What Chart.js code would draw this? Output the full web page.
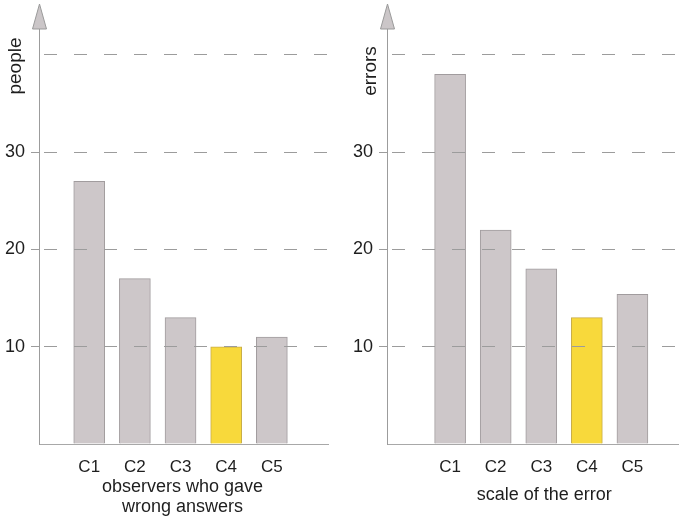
<!DOCTYPE html>
<html><head><meta charset="utf-8">
<script src="https://cdn.jsdelivr.net/npm/chart.js@4.4.1/dist/chart.umd.min.js"></script>
<style>
html,body{margin:0;padding:0;background:#fff;}
#wrap{position:relative;width:685px;height:523px;overflow:hidden;}
.box{position:absolute;top:0;height:523px;}
</style></head><body>
<div id="wrap">
<div class="box" style="left:0;width:343px"><canvas id="c1" width="343" height="523"></canvas></div>
<div class="box" style="left:343px;width:342px"><canvas id="c2" width="342" height="523"></canvas></div>
</div>
<script>
// ---- data ----
const categories = ['C1', 'C2', 'C3', 'C4', 'C5'];
const observersWrong = [27, 17, 13, 10, 11];
const errorScale = [38, 22, 18, 13, 15.4];
const yTickLabels = [10, 20, 30];
const yGridValues = [10, 20, 30, 40];
const highlightCategory = 'C4';
const leftYTitle = 'people';
const rightYTitle = 'errors';
const leftXTitle = ['observers who gave', 'wrong answers'];
const rightXTitle = ['scale of the error'];

// ---- styles ----
const GREY = '#cdc7c9', GREY_B = '#a19c9e', YEL = '#f8d93b', YEL_B = '#c9ad48';
const FONT = '"Liberation Sans", Arial, Helvetica, sans-serif';
const TXT = '#1e1e1e';

const decor = {
  id: 'decor',
  afterDraw(chart, args, o) {
    const { ctx, chartArea } = chart;
    const xs = chart.scales.x;
    const ax = Math.round(chartArea.left) + 0.5;
    const top = chartArea.top;
    ctx.save();
    // arrow head on y axis
    ctx.beginPath();
    ctx.moveTo(ax - 7, top);
    ctx.lineTo(ax + 7, top);
    ctx.lineTo(ax, top - 25);
    ctx.closePath();
    ctx.fillStyle = '#cbc6c8';
    ctx.fill();
    ctx.strokeStyle = '#9a9a9a';
    ctx.lineWidth = 1;
    ctx.stroke();
    // y title
    ctx.fillStyle = TXT;
    ctx.font = '19px ' + FONT;
    ctx.textAlign = 'center';
    ctx.textBaseline = 'alphabetic';
    ctx.save();
    ctx.translate(o.yTitleX, o.yTitleY);
    ctx.rotate(-Math.PI / 2);
    ctx.fillText(o.yTitle, 0, 0);
    ctx.restore();
    // x title
    ctx.font = '18px ' + FONT;
    const cx = xs.getPixelForValue((categories.length - 1) / 2) + o.xTitleDx;
    o.xTitle.forEach((line, i) => ctx.fillText(line, cx, o.xTitleY + i * 20));
    ctx.restore();
  }
};

function makeChart(id, values, opts) {
  const pts = values.map((v, i) => ({ x: i, y: v }));
  const bg = categories.map(c => c === highlightCategory ? YEL : GREY);
  const bd = categories.map(c => c === highlightCategory ? YEL_B : GREY_B);
  return new Chart(document.getElementById(id), {
    type: 'bar',
    data: {
      datasets: [{
        data: pts,
        backgroundColor: bg,
        borderColor: bd,
        borderWidth: 1,
        barThickness: 31
      }]
    },
    options: {
      responsive: false,
      animation: false,
      devicePixelRatio: 1,
      layout: { padding: { top: 29, right: opts.padRight, left: 0, bottom: 0 } },
      plugins: {
        legend: { display: false },
        tooltip: { enabled: false },
        decor: opts.decor
      },
      scales: {
        x: {
          type: 'linear',
          min: opts.xmin,
          max: opts.xmax,
          offset: false,
          afterBuildTicks: s => { s.ticks = categories.map((c, i) => ({ value: i })); },
          afterFit: s => { s.height = 79; },
          ticks: {
            autoSkip: false,
            maxRotation: 0,
            padding: 13,
            color: TXT,
            font: { family: FONT, size: 17 },
            callback: v => categories[v]
          },
          grid: { display: true, color: 'rgba(0,0,0,0)', drawTicks: false },
          border: { display: true, color: '#a8a8a8', width: 1 }
        },
        y: {
          min: 0,
          max: 42.67,
          afterFit: s => { s.width = opts.yWidth; },
          ticks: {
            stepSize: 10,
            includeBounds: false,
            padding: 6,
            color: TXT,
            font: { family: FONT, size: 18 },
            callback: v => yTickLabels.includes(v) ? String(v) : ''
          },
          grid: {
            z: 1,
            color: c => yGridValues.includes(c.tick && c.tick.value) ? '#9c9c9c' : 'rgba(0,0,0,0)',
            tickColor: c => yTickLabels.includes(c.tick && c.tick.value) ? '#9c9c9c' : 'rgba(0,0,0,0)',
            tickLength: 8,
            lineWidth: 1
          },
          border: { display: true, z: 1, color: '#9c9c9c', width: 1, dash: [13, 17], dashOffset: -4 }
        }
      }
    },
    plugins: [decor]
  });
}

makeChart('c1', observersWrong, {
  xmin: -1.10, xmax: 5.23, padRight: 15, yWidth: 39,
  decor: { yTitle: leftYTitle, yTitleX: 21, yTitleY: 66, xTitle: leftXTitle, xTitleY: 492, xTitleDx: 2 }
});
makeChart('c2', errorScale, {
  xmin: -1.385, xmax: 5.0, padRight: 7, yWidth: 44,
  decor: { yTitle: rightYTitle, yTitleX: 33, yTitleY: 71, xTitle: rightXTitle, xTitleY: 500, xTitleDx: 3 }
});
</script>
</body></html>
